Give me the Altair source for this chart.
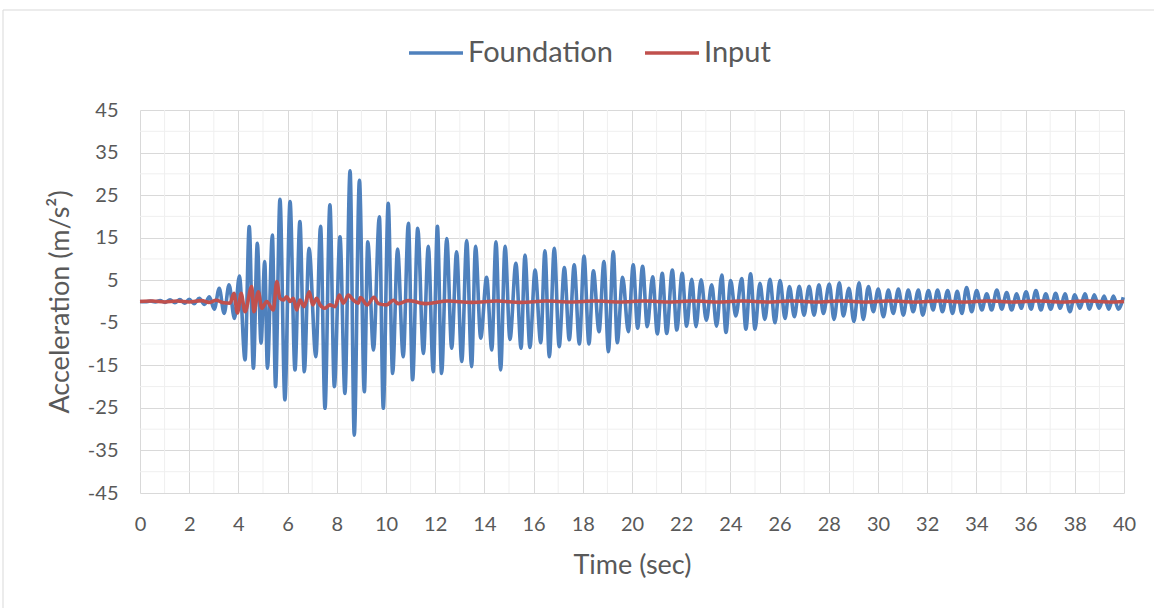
import altair as alt
import pandas as pd

# Foundation response: extrema (time in s, acceleration in m/s^2)
found_t = [0.0, 0.22, 0.42, 0.62, 0.82, 1.02, 1.22, 1.42, 1.62, 1.81, 2.0, 2.2, 2.41, 2.62, 2.82,
           3.02, 3.22, 3.42, 3.62, 3.84, 4.04, 4.27, 4.44, 4.61, 4.77, 4.92, 5.07, 5.18, 5.38, 5.51,
           5.69, 5.89, 6.10, 6.30, 6.50, 6.68, 6.87, 7.15, 7.34, 7.52, 7.72, 7.90, 8.13, 8.33, 8.54,
           8.71, 8.92, 9.12, 9.26, 9.49, 9.73, 9.89, 10.09, 10.27, 10.47, 10.70, 10.91, 11.08, 11.29,
           11.52, 11.72, 11.92, 12.09, 12.26, 12.47, 12.67, 12.87, 13.08, 13.28, 13.48, 13.64, 13.85,
           14.09, 14.30, 14.47, 14.66, 14.84, 15.04, 15.28, 15.49, 15.65, 15.85, 16.06, 16.29, 16.46,
           16.64, 16.84, 17.04, 17.25, 17.45, 17.65, 17.86, 18.05, 18.25, 18.43, 18.66, 18.86, 19.04,
           19.24, 19.40, 19.62, 19.85, 20.05, 20.23, 20.43, 20.62, 20.84, 21.03, 21.23, 21.41, 21.64,
           21.82, 22.04, 22.22, 22.43, 22.60, 22.81, 23.02, 23.24, 23.44, 23.65, 23.82, 24.01, 24.22,
           24.46, 24.63, 24.82, 25.00, 25.20, 25.40, 25.61, 25.81, 26.02, 26.22, 26.40, 26.60, 26.80,
           26.99, 27.20, 27.40, 27.60, 27.78, 28.02, 28.21, 28.43, 28.59, 28.82, 29.02, 29.23, 29.40,
           29.61, 29.81, 30.01, 30.22, 30.42, 30.62, 30.83, 31.03, 31.23, 31.43, 31.64, 31.82, 32.05,
           32.24, 32.42, 32.62, 32.83, 33.03, 33.22, 33.41, 33.60, 33.81, 34.01, 34.22, 34.42, 34.62,
           34.83, 35.03, 35.23, 35.43, 35.64, 35.82, 36.02, 36.22, 36.42, 36.62, 36.82, 37.02, 37.22,
           37.41, 37.60, 37.80, 38.00, 38.21, 38.41, 38.60, 38.79, 38.99, 39.19, 39.38, 39.57, 39.77,
           39.97]
found_v = [0.0, -0.05, 0.1, -0.1, 0.2, -0.2, 0.4, -0.3, 0.45, -0.4, 0.5, -0.5, 0.75, -0.7, 1.1,
           -1.8, 3.1, -2.8, 3.9, -4.0, 6.0, -13.7, 17.6, -15.7, 13.7, -9.8, 9.4, -15.7, 15.6, -20.0,
           24.0, -23.1, 23.5, -16.1, 18.8, -16.5, 12.5, -13.0, 17.7, -25.1, 22.7, -20.0, 15.2, -21.6, 30.7,
           -31.4, 28.5, -21.2, 14.0, -11.4, 19.9, -25.1, 23.1, -16.9, 12.3, -13.0, 18.4, -18.4, 17.2,
           -12.2, 13.0, -16.5, 17.7, -16.9, 14.8, -11.0, 11.7, -14.1, 14.3, -15.3, 13.0, -8.6,
           5.7, -11.4, 14.0, -16.1, 13.0, -8.9, 9.0, -11.0, 10.9, -10.8, 7.4, -9.7, 11.9,
           -13.0, 12.5, -10.6, 8.0, -9.0, 8.6, -10.0, 10.7, -10.0, 7.2, -7.1, 9.4, -11.8,
           11.7, -9.7, 5.7, -7.1, 8.6, -6.3, 8.3, -5.9, 5.8, -7.6, 6.6, -7.5, 7.4,
           -6.7, 6.6, -5.8, 5.2, -5.9, 5.1, -4.4, 3.9, -5.8, 6.2, -7.3, 4.9, -3.4,
           5.4, -6.5, 6.5, -6.5, 4.3, -4.2, 5.2, -5.0, 4.9, -4.0, 3.5, -3.6, 3.6,
           -3.2, 3.6, -3.2, 3.9, -2.8, 4.1, -4.2, 4.4, -3.4, 3.1, -4.7, 4.4, -4.2,
           3.5, -2.4, 2.9, -3.6, 2.7, -2.8, 2.9, -3.2, 2.7, -2.4, 2.7, -3.2, 2.6,
           -2.0, 2.7, -2.4, 2.6, -2.8, 2.4, -2.8, 3.3, -2.4, 2.6, -2.0, 1.8, -2.0,
           2.7, -1.8, 2.1, -2.0, 1.8, -1.6, 2.3, -1.8, 2.6, -2.0, 1.8, -1.8, 1.9,
           -1.6, 1.8, -2.4, 1.6, -1.6, 1.8, -1.8, 1.6, -1.6, 1.3, -1.8, 1.3, -1.8,
           1.0]

# Input motion
input_t = [0.0, 0.5, 1.0, 1.5, 2.0, 2.5, 2.8, 3.1, 3.4, 3.66, 3.82, 3.96, 4.11, 4.27, 4.54, 4.63,
           4.81, 4.95, 5.15, 5.42, 5.56, 5.69, 5.83, 5.96, 6.10, 6.23, 6.37, 6.50, 6.67, 6.88, 7.02,
           7.18, 7.32, 7.52, 7.72, 7.93, 8.10, 8.27, 8.47, 8.67, 8.87, 8.96, 9.23, 9.51, 9.69, 10.03,
           10.3, 10.5, 10.9, 11.65, 12.5, 13.5, 14.5, 15.5, 16.5, 17.5, 18.5, 19.5, 20.5, 21.5, 22.5,
           23.5, 24.5, 25.5, 26.5, 27.5, 28.5, 29.5, 30.5, 31.5, 32.5, 33.5, 34.5, 35.5, 36.5, 37.5,
           38.5, 39.5, 40.0]
input_v = [0.0, 0.1, -0.1, 0.1, -0.1, 0.2, -0.2, 0.3, -0.3, -0.4, 1.9, -2.7, 1.9, -2.4, 3.5, -2.4,
           2.3, -1.6, 0.0, -2.0, 4.7, 0.75, 0.35, 1.1, 0.0, 0.75, -2.0, 0.35, -1.2, 2.3, -0.8,
           0.75, -0.8, -1.6, -0.8, -1.2, 1.5, -0.4, 1.5, 0.35, -0.4, 0.9, -0.8, 1.0, -0.5, -0.8,
           0.3, -0.5, 0.2, -0.5, 0.1, -0.2, 0.1, -0.2, 0.1, -0.1, 0.1, -0.1, 0.1, -0.1, 0.1,
           -0.1, 0.1, -0.1, 0.1, -0.1, 0.1, -0.1, 0.1, -0.1, 0.1, -0.1, 0.1, -0.1, 0.1, -0.1,
           0.1, -0.1, 0.0]

series_names = ["Foundation", "Input"]
series_colors = ["#4F81BD", "#C0504D"]
x_ticks = list(range(0, 41, 2))
y_ticks = list(range(-45, 46, 10))
x_minor = list(range(1, 40, 2))
y_minor = list(range(-40, 41, 10))

df = pd.concat([
    pd.DataFrame({"t": found_t, "v": found_v, "series": "Foundation"}),
    pd.DataFrame({"t": input_t, "v": input_v, "series": "Input"}),
], ignore_index=True)

FONT = "Lato"
TXT = "#595959"
W, H = 984, 383

xscale = alt.Scale(domain=[0, 40], nice=False, zero=False)
yscale = alt.Scale(domain=[-45, 45], nice=False, zero=False)

xaxis = alt.Axis(values=x_ticks, title="Time (sec)", grid=True, gridColor="#d9d9d9",
                 ticks=False, domain=False, labelFont=FONT, labelFontSize=20,
                 labelColor=TXT, labelPadding=21, labelFlush=False, labelOverlap=False,
                 labelExpr="'' + datum.value",
                 titleFont=FONT, titleFontSize=27,
                 titleFontWeight="normal", titleColor=TXT, titleX=W / 2, titleY=72,
                 titleBaseline="middle")
yaxis = alt.Axis(values=y_ticks, title="Acceleration (m/s²)", grid=True, gridColor="#d9d9d9",
                 ticks=False, domain=False, labelFont=FONT, labelFontSize=20,
                 labelColor=TXT, labelPadding=22, labelFlush=False, labelOverlap=False,
                 labelExpr="'' + datum.value",
                 titleFont=FONT, titleFontSize=27,
                 titleFontWeight="normal", titleColor=TXT, titleX=-80, titleY=H / 2,
                 titleAngle=-90, titleBaseline="middle")

vminor = alt.Chart(pd.DataFrame({"t": x_minor})).mark_rule(color="#efefef", strokeWidth=1).encode(
    x=alt.X("t:Q", scale=xscale, axis=xaxis))
hminor = alt.Chart(pd.DataFrame({"v": y_minor})).mark_rule(color="#efefef", strokeWidth=1).encode(
    y=alt.Y("v:Q", scale=yscale, axis=yaxis))

lines = alt.Chart(df).mark_line(strokeWidth=3.6, interpolate="monotone").encode(
    x=alt.X("t:Q", scale=xscale, axis=xaxis),
    y=alt.Y("v:Q", scale=yscale, axis=yaxis),
    color=alt.Color("series:N", scale=alt.Scale(domain=series_names, range=series_colors),
                    legend=alt.Legend(title=None, orient="none", legendX=267, legendY=-86,
                                      direction="horizontal", symbolType="stroke",
                                      symbolSize=2916, symbolStrokeWidth=3.5, labelFont=FONT,
                                      labelFontSize=29, labelColor=TXT, columnPadding=25,
                                      labelOffset=3, labelLimit=400)),
)

one = pd.DataFrame({"a": [0]})
border_left = alt.Chart(one).mark_rule(color="#d9d9d9", strokeWidth=1).encode(
    x=alt.value(-137), y=alt.value(-100), y2=alt.value(H + 115))
border_top = alt.Chart(one).mark_rule(color="#d9d9d9", strokeWidth=1).encode(
    x=alt.value(-137), x2=alt.value(W + 30), y=alt.value(-100))

chart = alt.layer(vminor, hminor, lines, border_left, border_top).properties(
    width=W, height=H,
    autosize=alt.AutoSizeParams(type="none"),
    padding={"left": 140, "top": 110, "right": 30, "bottom": 115},
    background="white",
).configure_view(stroke=None)

chart.save("out.html", embed_options={"renderer": "svg", "actions": False})
